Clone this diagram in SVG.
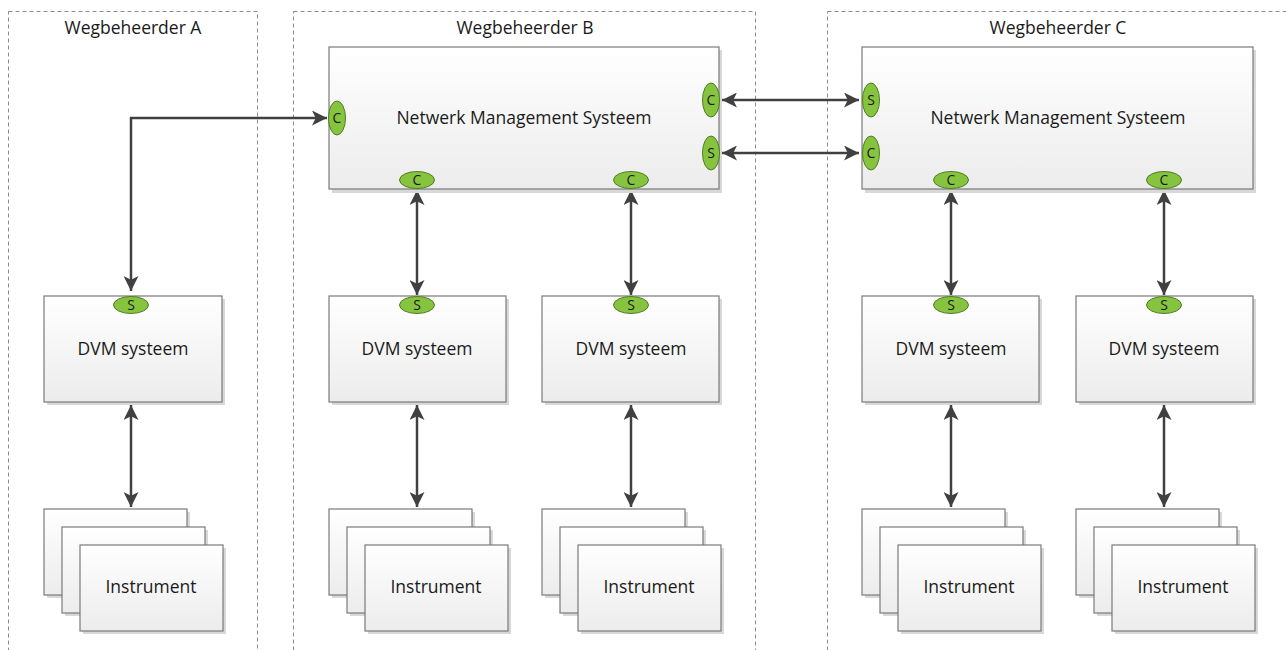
<svg xmlns="http://www.w3.org/2000/svg" width="1286" height="650" viewBox="0 0 1286 650">
<defs>
<linearGradient id="g" x1="0" y1="0" x2="0" y2="1"><stop offset="0" stop-color="#ffffff"/><stop offset="1" stop-color="#ececec"/></linearGradient>
<marker id="ah" viewBox="0 0 10 10" refX="10" refY="5" markerWidth="6" markerHeight="6" orient="auto-start-reverse" markerUnits="strokeWidth"><path d="M0,0 L10,5 L0,10 L2.5,5 Z" fill="#404040"/></marker>
</defs>
<style>
.lane{fill:none;stroke:#8c8c8c;stroke-width:1;stroke-dasharray:4,3}
.box{fill:url(#g);stroke:#7a7a7a;stroke-width:1.2}
.sh{fill:#d8d8d8}
.port{fill:#86c440;stroke:#4e7d23;stroke-width:1}
.t{font-family:"Open Sans","Liberation Sans",sans-serif;fill:#1a1a1a;text-anchor:middle}
.tl{font-size:17.5px}
.tp{font-size:14px}
.c{fill:none;stroke:#404040;stroke-width:2.5;marker-start:url(#ah);marker-end:url(#ah)}
</style>
<rect width="1286" height="650" fill="#ffffff"/>
<g id="lane-a"><rect class="lane" x="8.5" y="11.5" width="249" height="645"/><text class="t tl" x="133" y="34">Wegbeheerder A</text></g>
<g id="lane-b"><rect class="lane" x="293.5" y="11.5" width="462" height="645"/><text class="t tl" x="525" y="34">Wegbeheerder B</text></g>
<g id="lane-c"><rect class="lane" x="827.5" y="11.5" width="462" height="645"/><text class="t tl" x="1058" y="34">Wegbeheerder C</text></g>

<g id="connectors">
<path class="c" d="M131,291 V118 H327"/>
<path class="c" d="M722,100 H859"/>
<path class="c" d="M722,153 H859"/>
<path class="c" d="M417,190 V295"/>
<path class="c" d="M631,190 V295"/>
<path class="c" d="M951,190 V295"/>
<path class="c" d="M1164,190 V295"/>
<path class="c" d="M131,405 V507"/>
<path class="c" d="M417,405 V507"/>
<path class="c" d="M631,405 V507"/>
<path class="c" d="M951,405 V507"/>
<path class="c" d="M1164,405 V507"/>
</g>

<g id="nms-b">
<rect class="sh" x="332" y="50" width="390" height="143"/>
<rect class="box" x="329" y="47" width="390" height="142"/>
<text class="t tl" x="524" y="124">Netwerk Management Systeem</text>
<ellipse class="port" cx="337" cy="118" rx="8.5" ry="17"/><text class="t tp" x="337" y="123">C</text>
<ellipse class="port" cx="711" cy="100" rx="8.5" ry="17"/><text class="t tp" x="711" y="105">C</text>
<ellipse class="port" cx="711" cy="153" rx="8.5" ry="17"/><text class="t tp" x="711" y="158">S</text>
<ellipse class="port" cx="417" cy="180" rx="17.5" ry="8.5"/><text class="t tp" x="417" y="185">C</text>
<ellipse class="port" cx="631" cy="180" rx="17.5" ry="8.5"/><text class="t tp" x="631" y="185">C</text>
</g>
<g id="nms-c">
<rect class="sh" x="865" y="50" width="391" height="143"/>
<rect class="box" x="862" y="47" width="391" height="142"/>
<text class="t tl" x="1058" y="124">Netwerk Management Systeem</text>
<ellipse class="port" cx="871" cy="100" rx="8.5" ry="17"/><text class="t tp" x="871" y="105">S</text>
<ellipse class="port" cx="871" cy="153" rx="8.5" ry="17"/><text class="t tp" x="871" y="158">C</text>
<ellipse class="port" cx="951" cy="180" rx="17.5" ry="8.5"/><text class="t tp" x="951" y="185">C</text>
<ellipse class="port" cx="1164" cy="180" rx="17.5" ry="8.5"/><text class="t tp" x="1164" y="185">C</text>
</g>

<g id="dvm-a"><rect class="sh" x="47" y="299" width="178" height="106"/><rect class="box" x="44" y="296" width="178" height="106"/><text class="t tl" x="133" y="355">DVM systeem</text><ellipse class="port" cx="131" cy="305" rx="17.5" ry="8.5"/><text class="t tp" x="131" y="310">S</text></g>
<g id="dvm-b1"><rect class="sh" x="332" y="299" width="177" height="106"/><rect class="box" x="329" y="296" width="177" height="106"/><text class="t tl" x="417" y="355">DVM systeem</text><ellipse class="port" cx="417" cy="305" rx="17.5" ry="8.5"/><text class="t tp" x="417" y="310">S</text></g>
<g id="dvm-b2"><rect class="sh" x="545" y="299" width="177" height="106"/><rect class="box" x="542" y="296" width="177" height="106"/><text class="t tl" x="631" y="355">DVM systeem</text><ellipse class="port" cx="631" cy="305" rx="17.5" ry="8.5"/><text class="t tp" x="631" y="310">S</text></g>
<g id="dvm-c1"><rect class="sh" x="865" y="299" width="177" height="106"/><rect class="box" x="862" y="296" width="177" height="106"/><text class="t tl" x="951" y="355">DVM systeem</text><ellipse class="port" cx="951" cy="305" rx="17.5" ry="8.5"/><text class="t tp" x="951" y="310">S</text></g>
<g id="dvm-c2"><rect class="sh" x="1079" y="299" width="177" height="106"/><rect class="box" x="1076" y="296" width="177" height="106"/><text class="t tl" x="1164" y="355">DVM systeem</text><ellipse class="port" cx="1164" cy="305" rx="17.5" ry="8.5"/><text class="t tp" x="1164" y="310">S</text></g>

<g id="instr-a" transform="translate(44,0)">
<rect class="sh" x="3" y="512" width="143" height="86"/><rect class="box" x="0" y="509" width="143" height="86"/>
<rect class="sh" x="21" y="530" width="143" height="86"/><rect class="box" x="18" y="527" width="143" height="86"/>
<rect class="sh" x="39" y="548" width="143" height="86"/><rect class="box" x="36" y="545" width="143" height="86"/>
<text class="t tl" x="107" y="593">Instrument</text>
</g>
<g id="instr-b1" transform="translate(329,0)">
<rect class="sh" x="3" y="512" width="143" height="86"/><rect class="box" x="0" y="509" width="143" height="86"/>
<rect class="sh" x="21" y="530" width="143" height="86"/><rect class="box" x="18" y="527" width="143" height="86"/>
<rect class="sh" x="39" y="548" width="143" height="86"/><rect class="box" x="36" y="545" width="143" height="86"/>
<text class="t tl" x="107" y="593">Instrument</text>
</g>
<g id="instr-b2" transform="translate(542,0)">
<rect class="sh" x="3" y="512" width="143" height="86"/><rect class="box" x="0" y="509" width="143" height="86"/>
<rect class="sh" x="21" y="530" width="143" height="86"/><rect class="box" x="18" y="527" width="143" height="86"/>
<rect class="sh" x="39" y="548" width="143" height="86"/><rect class="box" x="36" y="545" width="143" height="86"/>
<text class="t tl" x="107" y="593">Instrument</text>
</g>
<g id="instr-c1" transform="translate(862,0)">
<rect class="sh" x="3" y="512" width="143" height="86"/><rect class="box" x="0" y="509" width="143" height="86"/>
<rect class="sh" x="21" y="530" width="143" height="86"/><rect class="box" x="18" y="527" width="143" height="86"/>
<rect class="sh" x="39" y="548" width="143" height="86"/><rect class="box" x="36" y="545" width="143" height="86"/>
<text class="t tl" x="107" y="593">Instrument</text>
</g>
<g id="instr-c2" transform="translate(1076,0)">
<rect class="sh" x="3" y="512" width="143" height="86"/><rect class="box" x="0" y="509" width="143" height="86"/>
<rect class="sh" x="21" y="530" width="143" height="86"/><rect class="box" x="18" y="527" width="143" height="86"/>
<rect class="sh" x="39" y="548" width="143" height="86"/><rect class="box" x="36" y="545" width="143" height="86"/>
<text class="t tl" x="107" y="593">Instrument</text>
</g>
</svg>
